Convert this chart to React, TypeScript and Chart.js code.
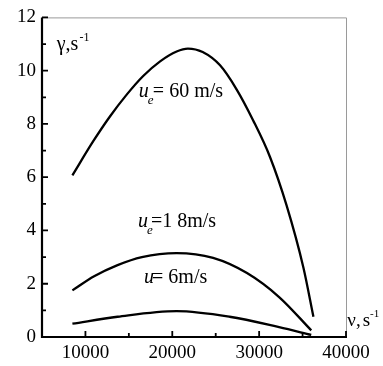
import React, { useEffect, useRef } from "react";
import { Chart, registerables } from "chart.js";

Chart.register(...registerables);

// nu (s^-1) and gamma (s^-1) values
const nu60 = [8500, 10900, 12800, 14750, 16650, 18600, 20500, 21800, 23500, 25500, 27400, 29300, 31250, 33150, 35100, 36250];
const gamma60 = [6.07, 7.35, 8.27, 9.1, 9.8, 10.35, 10.72, 10.83, 10.7, 10.2, 9.3, 8.14, 6.76, 4.95, 2.6, 0.76];

const nu18 = [8500, 11000, 13700, 16500, 20500, 24700, 28600, 32300, 36000];
const gamma18 = [1.75, 2.28, 2.7, 3.0, 3.15, 2.97, 2.4, 1.5, 0.25];

const nu6 = [8500, 13700, 20500, 26600, 32300, 36000];
const gamma6 = [0.5, 0.76, 0.97, 0.76, 0.37, 0.08];

const xMajorLabels = [10000, 20000, 30000, 40000];
const yMajorLabels = [0, 2, 4, 6, 8, 10, 12];

// annotation anchors (data coords)
const labelNu = [6700, 16150, 16050, 16750, 40150];
const labelGamma = [10.76, 9.0, 4.12, 2.02, 0.41];

const SERIF = "'Liberation Serif', 'DejaVu Serif', serif";

const toPts = (xs: number[], ys: number[]) => xs.map((x, i) => ({ x, y: ys[i] }));

const framePlugin = {
  id: "frame",
  afterDraw(chart: any) {
    const { ctx, chartArea: a, scales } = chart;
    const xs = scales.x;
    const ys = scales.y;
    ctx.save();
    // top/right thin gray
    ctx.strokeStyle = "#9a9a9a";
    ctx.lineWidth = 1;
    ctx.beginPath();
    ctx.moveTo(a.left, a.top + 0.5);
    ctx.lineTo(a.right + 0.5, a.top + 0.5);
    ctx.lineTo(a.right + 0.5, a.bottom);
    ctx.stroke();
    // left/bottom thick black
    ctx.strokeStyle = "#000";
    ctx.lineWidth = 2.2;
    ctx.beginPath();
    ctx.moveTo(a.left, a.top);
    ctx.lineTo(a.left, a.bottom);
    ctx.lineTo(a.right + 1, a.bottom);
    ctx.stroke();
    // inward ticks
    ctx.lineWidth = 1.8;
    ctx.beginPath();
    ys.ticks.forEach((t: any) => {
      const py = ys.getPixelForValue(t.value);
      const major = yMajorLabels.includes(t.value);
      ctx.moveTo(a.left, py);
      ctx.lineTo(a.left + (major ? 6 : 4), py);
    });
    xs.ticks.forEach((t: any) => {
      const px = xs.getPixelForValue(t.value);
      const major = xMajorLabels.includes(t.value);
      ctx.moveTo(px, a.bottom);
      ctx.lineTo(px, a.bottom - (major ? 6 : 4));
    });
    ctx.stroke();

    // annotations
    ctx.fillStyle = "#000";
    ctx.textBaseline = "alphabetic";
    ctx.textAlign = "left";
    const P = (i: number) => [xs.getPixelForValue(labelNu[i]), ys.getPixelForValue(labelGamma[i])];
    const big = `20px ${SERIF}`;
    const it = `italic 20px ${SERIF}`;
    const sm = `12px ${SERIF}`;
    const smIt = `italic 13px ${SERIF}`;

    // gamma, s^-1
    let [x, y] = P(0);
    ctx.font = big;
    ctx.fillText("γ,s", x, y);
    let w = ctx.measureText("γ,s").width;
    ctx.font = sm;
    ctx.fillText("-1", x + w + 1, y - 9);

    const drawU = (i: number, sub: boolean, rest: string, gap: number) => {
      const [ux, uy] = P(i);
      ctx.font = it;
      ctx.fillText("u", ux, uy);
      const uw = ctx.measureText("u").width;
      if (sub) {
        ctx.font = smIt;
        ctx.fillText("e", ux + uw - 1, uy + 7);
      }
      ctx.font = big;
      ctx.fillText(rest, ux + uw + gap, uy);
    };
    drawU(1, true, "= 60 m/s", 4);
    drawU(2, true, "=1 8m/s", 3);
    drawU(3, false, "= 6m/s", -2);

    // nu, s^-1
    [x, y] = P(4);
    ctx.font = `19px ${SERIF}`;
    ctx.fillText("ν,", x, y);
    let w2 = ctx.measureText("ν,").width;
    ctx.fillText("s", x + w2 + 2, y);
    w2 += 2 + ctx.measureText("s").width;
    ctx.font = `11px ${SERIF}`;
    ctx.fillText("-1", x + w2, y - 9);
    ctx.restore();
  },
};

export default function App() {
  const ref = useRef<HTMLCanvasElement | null>(null);
  useEffect(() => {
    if (!ref.current) return;
    const line = (xs: number[], ys: number[]) => ({
      data: toPts(xs, ys),
      borderColor: "#000",
      borderWidth: 2.3,
      pointRadius: 0,
      cubicInterpolationMode: "monotone" as const,
      fill: false,
    });
    const chart = new Chart(ref.current, {
      type: "line",
      data: {
        datasets: [line(nu60, gamma60), line(nu18, gamma18), line(nu6, gamma6)],
      },
      options: {
        animation: false,
        responsive: false,
        layout: { padding: { top: 17, right: 37, left: 0, bottom: 0 } },
        plugins: { legend: { display: false }, tooltip: { enabled: false } },
        scales: {
          x: {
            type: "linear",
            min: 5000,
            max: 40000,
            grid: { display: false, drawTicks: false },
            border: { display: false },
            afterFit: (s: any) => {
              s.height = 29;
            },
            ticks: {
              stepSize: 5000,
              autoSkip: false,
              maxRotation: 0,
              padding: 5,
              color: "#000",
              font: { family: SERIF, size: 19 },
              callback: (v: any) => (xMajorLabels.includes(v) ? String(v) : ""),
            },
          },
          y: {
            type: "linear",
            min: 0,
            max: 12,
            grid: { display: false, drawTicks: false },
            border: { display: false },
            afterFit: (s: any) => {
              s.width = 42;
            },
            ticks: {
              stepSize: 1,
              autoSkip: false,
              padding: 6,
              color: "#000",
              font: { family: SERIF, size: 19 },
              callback: (v: any) => (yMajorLabels.includes(v) ? String(v) : ""),
            },
          },
        },
      },
      plugins: [framePlugin],
    });
    return () => chart.destroy();
  }, []);
  return (
    <div style={{ position: "fixed", left: 0, top: 0, width: 383, height: 366, background: "#fff" }}>
      <canvas ref={ref} width={383} height={366} style={{ display: "block" }} />
    </div>
  );
}
